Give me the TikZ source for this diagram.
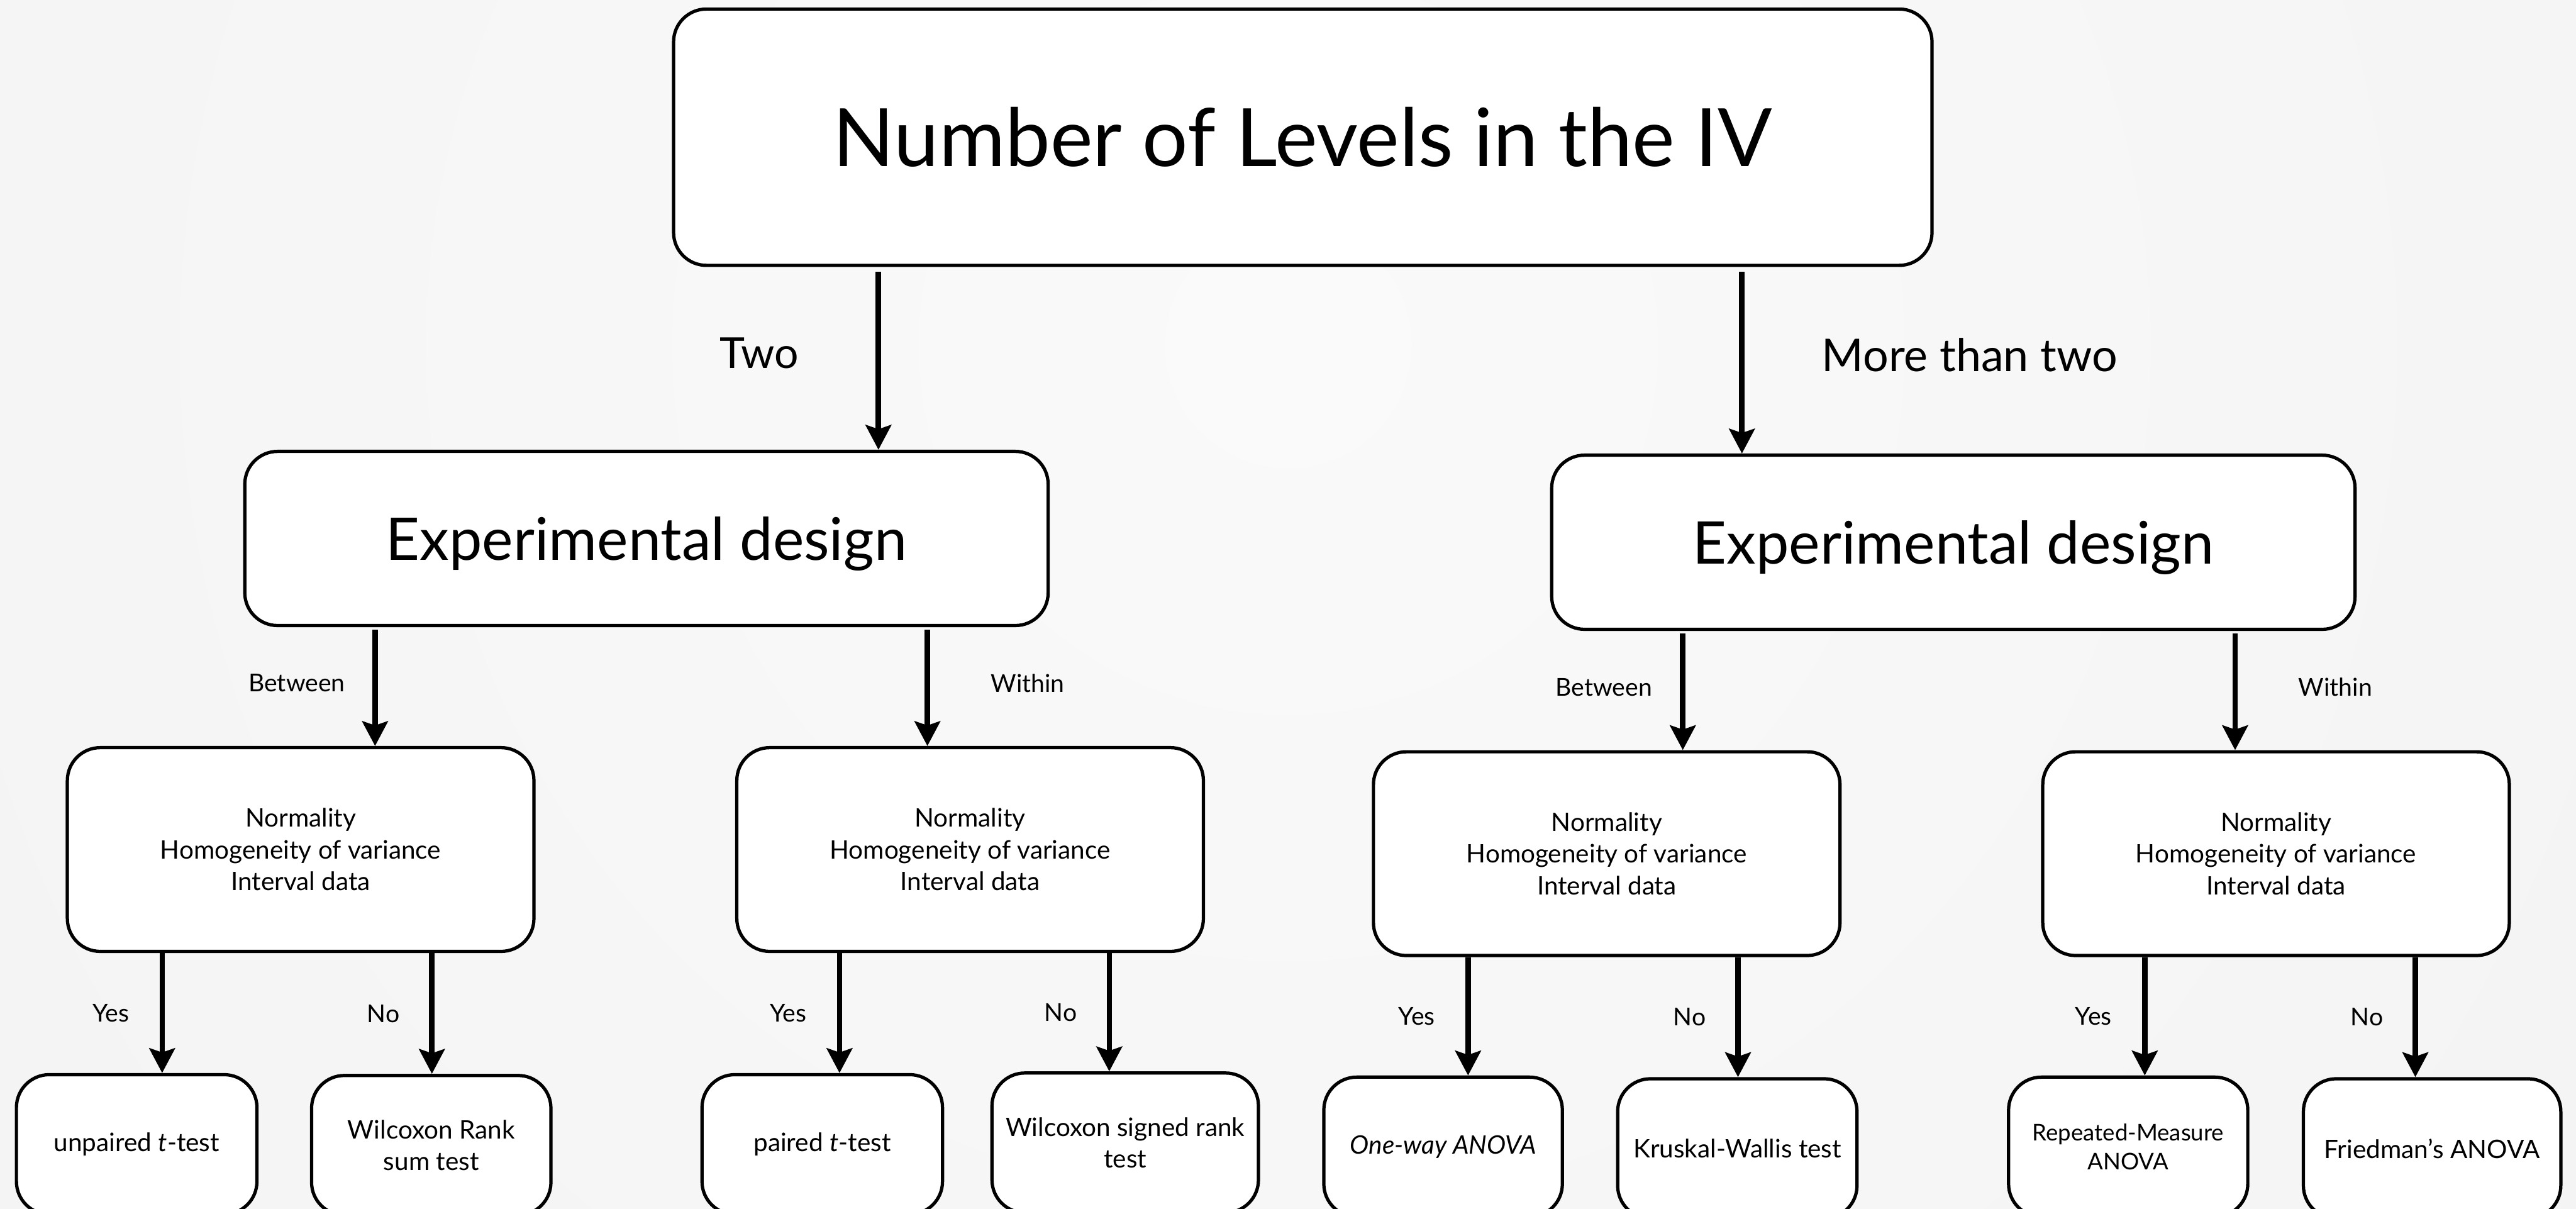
\documentclass[tikz,border=0pt]{standalone}
\usepackage{fontspec}
\setmainfont{Lato}
\usetikzlibrary{arrows.meta}
\definecolor{bgin}{RGB}{250,250,250}
\definecolor{bgout}{RGB}{238,238,238}
\begin{document}
\begin{tikzpicture}[x=1pt,y=-1pt,
  box/.style={draw=black, line width=2pt, fill=white, rounded corners=20pt, inner sep=0pt, align=center},
  titlebox/.style={box, minimum width=766pt, minimum height=156pt, font=\fontsize{49}{59}\selectfont},
  edbox/.style={box, minimum width=489pt, minimum height=106pt, text depth=0pt, font=\fontsize{35.8}{42}\selectfont},
  condbox/.style={box, minimum width=284pt, minimum height=124pt, font=\fontsize{15.5}{19.4}\selectfont},
  leafbox/.style={box, minimum height=85pt, font=\fontsize{15.5}{19.2}\selectfont},
  arr/.style={line width=3.3pt, -{Stealth[length=15pt,width=15.5pt,inset=2.5pt]}},
  biglbl/.style={inner sep=0pt, font=\fontsize{26}{30}\selectfont},
  midlbl/.style={inner sep=0pt, font=\fontsize{15}{18}\selectfont},
  yn/.style={inner sep=0pt, font=\fontsize{15}{18}\selectfont}]
\useasboundingbox (0,0) rectangle (1568,735.65);
\begin{scope}
\clip (0,0) rectangle (1568,735.65);
\shade[inner color=bgin, outer color=bgout] (784,210) circle (1800);

% top
\node[titlebox] (top) at (793,83.5) {Number of Levels in the IV};
% experimental design
\node[edbox] (edL) at (393.5,327.7) {Experimental design};
\node[edbox] (edR) at (1189,330) {Experimental design};
% conditions
\node[condbox] (c1) at (183,517) {Normality\\Homogeneity of variance\\Interval data};
\node[condbox] (c2) at (590.5,517) {Normality\\Homogeneity of variance\\Interval data};
\node[condbox] (c3) at (978,519.5) {Normality\\Homogeneity of variance\\Interval data};
\node[condbox] (c4) at (1385.4,519.5) {Normality\\Homogeneity of variance\\Interval data};
% leaves
\node[leafbox, minimum width=146.4pt] (b1) at (83.2,696.5) {unpaired \textit{t}-test};
\node[leafbox, minimum width=145.7pt] (b2) at (262.5,697) {Wilcoxon Rank\\sum test};
\node[leafbox, minimum width=146.4pt] (b3) at (500.5,696.5) {paired \textit{t}-test};
\node[leafbox, minimum width=162.2pt] (b4) at (684.9,695.5) {Wilcoxon signed rank\\test};
\node[leafbox, minimum width=145.2pt] (b5) at (878.4,698) {\textit{One-way ANOVA}};
\node[leafbox, minimum width=145.7pt] (b6) at (1057.5,699) {Kruskal-Wallis test};
\node[leafbox, minimum width=145.6pt, font=\fontsize{14}{17.8}\selectfont] (b7) at (1295.4,698) {Repeated-Measure\\ANOVA};
\node[leafbox, minimum width=156.7pt] (b8) at (1480.4,699) {Friedman’s ANOVA};

% arrow x positions
\coordinate (xTwo) at (534.7,0);
\coordinate (xMore) at (1060.3,0);
\coordinate (xLB) at (228.3,0);
\coordinate (xLW) at (564.5,0);
\coordinate (xRB) at (1024.3,0);
\coordinate (xRW) at (1360.5,0);
\coordinate (x1y) at (98.7,0);
\coordinate (x1n) at (262.9,0);
\coordinate (x2y) at (511,0);
\coordinate (x2n) at (675.2,0);
\coordinate (x3y) at (893.6,0);
\coordinate (x3n) at (1057.9,0);
\coordinate (x4y) at (1305.5,0);
\coordinate (x4n) at (1470.2,0);

% level 1 arrows
\draw[arr, shorten <=3pt] (top.south -| xTwo) -- node[biglbl, pos=0.47, anchor=east, xshift=-47pt] {Two} (edL.north -| xTwo);
\draw[arr, shorten <=3pt] (top.south -| xMore) -- node[biglbl, pos=0.47, anchor=west, xshift=47pt, font=\fontsize{27.5}{32}\selectfont] {More than two} (edR.north -| xMore);

% level 2 arrows
\draw[arr, shorten <=1.5pt] (edL.south -| xLB) -- node[midlbl, pos=0.47, anchor=east, xshift=-16.6pt] {Between} (c1.north -| xLB);
\draw[arr, shorten <=1.5pt] (edL.south -| xLW) -- node[midlbl, pos=0.47, anchor=west, xshift=37pt] {Within} (c2.north -| xLW);
\draw[arr, shorten <=1.5pt] (edR.south -| xRB) -- node[midlbl, pos=0.47, anchor=east, xshift=-17pt] {Between} (c3.north -| xRB);
\draw[arr, shorten <=1.5pt] (edR.south -| xRW) -- node[midlbl, pos=0.47, anchor=west, xshift=37pt] {Within} (c4.north -| xRW);

% level 3 arrows
\draw[arr] (c1.south -| x1y) -- node[yn, pos=0.5, anchor=east, xshift=-18.5pt] {Yes} (b1.north -| x1y);
\draw[arr] (c1.south -| x1n) -- node[yn, pos=0.5, anchor=east, xshift=-18pt] {No} (b2.north -| x1n);
\draw[arr] (c2.south -| x2y) -- node[yn, pos=0.5, anchor=east, xshift=-18.5pt] {Yes} (b3.north -| x2y);
\draw[arr] (c2.south -| x2n) -- node[yn, pos=0.5, anchor=east, xshift=-18pt] {No} (b4.north -| x2n);
\draw[arr] (c3.south -| x3y) -- node[yn, pos=0.5, anchor=east, xshift=-18.5pt] {Yes} (b5.north -| x3y);
\draw[arr] (c3.south -| x3n) -- node[yn, pos=0.5, anchor=east, xshift=-18pt] {No} (b6.north -| x3n);
\draw[arr] (c4.south -| x4y) -- node[yn, pos=0.5, anchor=east, xshift=-18.5pt] {Yes} (b7.north -| x4y);
\draw[arr] (c4.south -| x4n) -- node[yn, pos=0.5, anchor=east, xshift=-18pt] {No} (b8.north -| x4n);
\end{scope}
\end{tikzpicture}
\end{document}
